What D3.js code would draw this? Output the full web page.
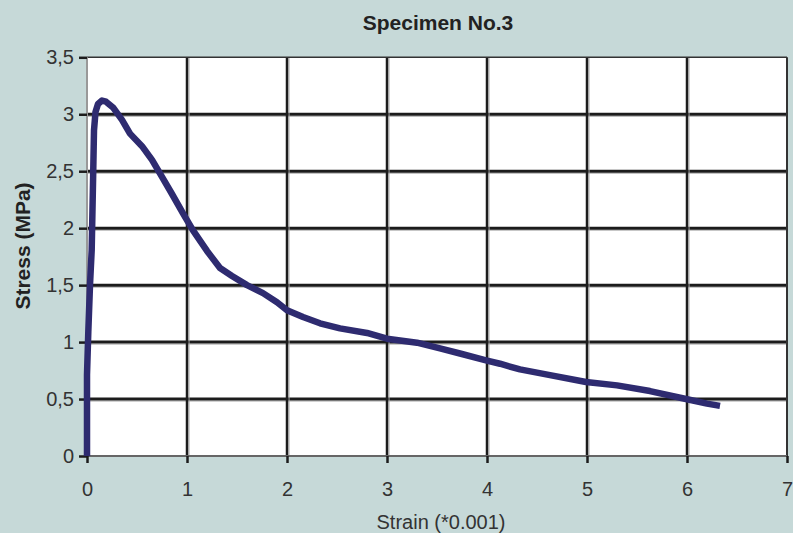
<!DOCTYPE html>
<html>
<head>
<meta charset="utf-8">
<script src="https://cdn.jsdelivr.net/npm/d3@7"></script>
<style>
  body { margin: 0; background: #c6d9d8; }
  svg { display: block; font-family: "Liberation Sans", Arial, sans-serif; }
</style>
</head>
<body>
<svg id="chart" width="793" height="533"></svg>
<script>
// Curve (strain *0.001, stress MPa)
const strain = [0, 0.0, 0.013, 0.03, 0.047, 0.063, 0.07, 0.085, 0.11, 0.15, 0.19, 0.26, 0.35, 0.43, 0.55, 0.65, 0.75,
  0.85, 0.96, 1.06, 1.2, 1.33, 1.45, 1.6, 1.76, 1.9, 2.0, 2.16, 2.33, 2.53, 2.8, 3.0, 3.3, 3.53, 3.73,
  3.99, 4.13, 4.33, 4.63, 4.99, 5.3, 5.63, 5.99, 6.2, 6.33];
const stress = [0, 0.71, 1.09, 1.5, 1.81, 2.53, 2.86, 3.02, 3.09, 3.12, 3.11, 3.06, 2.95, 2.83, 2.72, 2.6, 2.45,
  2.3, 2.13, 1.98, 1.8, 1.65, 1.58, 1.5, 1.43, 1.35, 1.28, 1.22, 1.165, 1.12, 1.08, 1.03, 0.995, 0.945, 0.9,
  0.84, 0.81, 0.76, 0.71, 0.65, 0.62, 0.57, 0.5, 0.46, 0.44];
const xTicks = [0, 1, 2, 3, 4, 5, 6, 7];
const yTicks = [0, 0.5, 1, 1.5, 2, 2.5, 3, 3.5];

const svg = d3.select("#chart");
const plotL = 87, plotR = 787, plotT = 57.3, plotB = 456;

const x = d3.scaleLinear().domain([0, 7]).range([plotL, plotR]);
const y = d3.scaleLinear().domain([0, 3.5]).range([plotB, plotT]);
const commaFmt = d3.formatLocale({ decimal: ",", thousands: ".", grouping: [3], currency: ["", ""] }).format("~g");

// plot background
svg.append("rect")
  .attr("x", plotL).attr("y", plotT)
  .attr("width", plotR - plotL).attr("height", plotB - plotT)
  .attr("fill", "#fff");

// grid
const grid = svg.append("g");
yTicks.filter(d => d > 0 && d < 3.5).forEach(d => {
  grid.append("line").attr("x1", plotL).attr("x2", plotR)
    .attr("y1", y(d) + 2).attr("y2", y(d) + 2)
    .attr("stroke", "#aaa").attr("stroke-width", 1);
  grid.append("line").attr("x1", plotL).attr("x2", plotR)
    .attr("y1", y(d)).attr("y2", y(d))
    .attr("stroke", "#1c1c1c").attr("stroke-width", 3);
});
xTicks.filter(d => d > 0 && d < 7).forEach(d => {
  grid.append("line").attr("x1", x(d) + 2).attr("x2", x(d) + 2)
    .attr("y1", plotT).attr("y2", plotB)
    .attr("stroke", "#aaa").attr("stroke-width", 1);
  grid.append("line").attr("x1", x(d)).attr("x2", x(d))
    .attr("y1", plotT).attr("y2", plotB)
    .attr("stroke", "#1c1c1c").attr("stroke-width", 2.5);
});

// frame
grid.append("line").attr("x1", plotL).attr("x2", plotR).attr("y1", plotT).attr("y2", plotT)
  .attr("stroke", "#333").attr("stroke-width", 1.5);
grid.append("line").attr("x1", plotR).attr("x2", plotR).attr("y1", plotT).attr("y2", plotB)
  .attr("stroke", "#333").attr("stroke-width", 2);
grid.append("line").attr("x1", plotL).attr("x2", plotL).attr("y1", plotT).attr("y2", plotB)
  .attr("stroke", "#999").attr("stroke-width", 2);
grid.append("line").attr("x1", plotL).attr("x2", plotR).attr("y1", plotB).attr("y2", plotB)
  .attr("stroke", "#666").attr("stroke-width", 2);

// axes
const yAxis = svg.append("g")
  .attr("transform", `translate(${plotL},0)`)
  .call(d3.axisLeft(y).tickValues(yTicks).tickFormat(commaFmt).tickSize(8).tickPadding(5));
const xAxis = svg.append("g")
  .attr("transform", `translate(0,${plotB})`)
  .call(d3.axisBottom(x).tickValues(xTicks).tickFormat(d3.format("d")).tickSize(7).tickPadding(19));

[yAxis, xAxis].forEach(a => {
  a.select(".domain").remove();
  a.selectAll(".tick line").attr("stroke", "#1c1c1c").attr("stroke-width", 2.5);
  a.selectAll(".tick text")
    .attr("fill", "#333")
    .style("font-size", "20px")
    .style("font-family", "'Liberation Sans', Arial, sans-serif");
});

// curve
const line = d3.line()
  .x((d, i) => x(strain[i]))
  .y(d => y(d));
svg.append("path")
  .datum(stress)
  .attr("d", line)
  .attr("fill", "none")
  .attr("stroke", "#2e2b70")
  .attr("stroke-width", 6.5)
  .attr("stroke-linejoin", "round");

// titles
svg.append("text")
  .attr("x", 438).attr("y", 30)
  .attr("text-anchor", "middle")
  .attr("fill", "#222")
  .style("font-size", "21px").style("font-weight", "bold")
  .text("Specimen No.3");

svg.append("text")
  .attr("transform", "translate(30,246) rotate(-90)")
  .attr("text-anchor", "middle")
  .attr("fill", "#222")
  .style("font-size", "21px").style("font-weight", "bold")
  .text("Stress (MPa)");

svg.append("text")
  .attr("x", 441).attr("y", 529)
  .attr("text-anchor", "middle")
  .attr("fill", "#333")
  .style("font-size", "20px")
  .text("Strain (*0.001)");
</script>
</body>
</html>
